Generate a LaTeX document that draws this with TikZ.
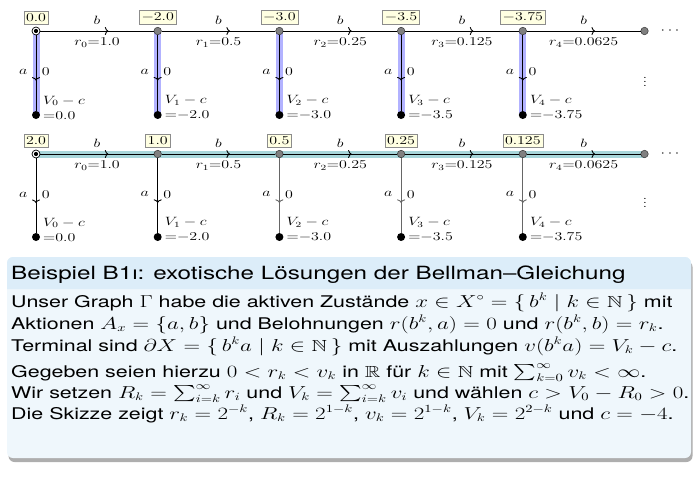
\documentclass[tikz,border=0pt]{standalone}
\usepackage{graphicx}
\usepackage{amssymb}
\usepackage[no-math]{fontspec}
\setsansfont{TeX Gyre Heros}
\usetikzlibrary{decorations.markings,shadows,arrows.meta,backgrounds}
\definecolor{bandblue}{RGB}{178,178,255}
\definecolor{bandteal}{RGB}{168,214,218}
\definecolor{valfill}{RGB}{255,255,226}
\definecolor{titlebg}{RGB}{220,237,249}
\definecolor{bodybg}{RGB}{239,247,252}
\newcommand\hs[1]{\scalebox{1.33}[1]{#1}}
\begin{document}
\begin{tikzpicture}[x=1pt,y=-1pt,
  lab/.style={font=\fontsize{11.7}{14}\selectfont},
  st/.style={circle, fill=black!50, draw=black!80, line width=0.5pt, minimum size=7.5pt, inner sep=0pt},
  term/.style={circle, fill=black, minimum size=8pt, inner sep=0pt},
  init/.style={circle, fill=white, draw=black, line width=0.7pt, minimum size=8pt, inner sep=0pt},
  val/.style={draw=black!45, fill=valfill, line width=0.5pt, inner xsep=2.2pt, inner ysep=2.8pt, font=\fontsize{11.7}{14}\selectfont},
  tl/.style={font=\fontsize{11.7}{15}\selectfont, align=left, inner sep=0pt},
  edgearr/.style={line width=0.9pt, postaction={decorate, decoration={markings, mark=at position 0.6 with {\arrow{Computer Modern Rightarrow[length=3.5pt,width=8pt]}}}}},
  txt/.style={font=\sffamily\fontsize{16.1}{22}\selectfont, anchor=base west, inner sep=0pt},
  ttl/.style={font=\sffamily\fontsize{18.2}{22}\selectfont, anchor=base west, inner sep=0pt}
]
\useasboundingbox (0,0) rectangle (699,482);

% states
\node[init] (t0) at (36,31) {};
\node[init] (u0) at (36,154) {};
\fill (t0.center) circle (2.1pt);
\fill (u0.center) circle (2.1pt);
\foreach \i in {1,...,5} {
  \pgfmathsetmacro\x{36+121.7*\i}
  \node[st] (t\i) at (\x,31) {};
  \node[st] (u\i) at (\x,154) {};
}
% terminals, values
\foreach \i/\v/\w in {0/0.0/2.0,1/-2.0/1.0,2/-3.0/0.5,3/-3.5/0.25,4/-3.75/0.125} {
  \pgfmathsetmacro\x{36+121.7*\i}
  \node[term] (a\i) at (\x,115) {};
  \node[term] (b\i) at (\x,237) {};
  \node[tl, anchor=west] (la\i) at (\x+7,107.5) {\hs{$V_{\i}-c$}\\\hs{${=}{\v}$}};
  \node[tl, anchor=west] (lb\i) at (\x+7,229.5) {\hs{$V_{\i}-c$}\\\hs{${=}{\v}$}};
  \node[val] (va\i) at (\x,17.5) {\hs{$\v$}};
  \node[val] (vb\i) at (\x,140.5) {\hs{$\w$}};
}
% bands
\begin{pgfonlayer}{background}
  \foreach \i in {0,...,4} \draw[bandblue, line width=7pt] (t\i.center) -- (a\i.center);
  \draw[bandteal, line width=7pt] (u0.center) -- (u5.center);
\end{pgfonlayer}
% horizontal edges
\foreach \i/\j/\r in {0/1/1.0,1/2/0.5,2/3/0.25,3/4/0.125,4/5/0.0625} {
  \draw[edgearr] (t\i) -- node[lab, yshift=11pt] {\hs{$b$}} node[lab, yshift=-12pt] {\hs{$r_{\i}{=}\r$}} (t\j);
  \draw[edgearr] (u\i) -- node[lab, yshift=11pt] {\hs{$b$}} node[lab, yshift=-12pt] {\hs{$r_{\i}{=}\r$}} (u\j);
}
% vertical edges
\foreach \i/\c in {0/black,1/black,2/black!60,3/black!60,4/black!60} {
  \draw[edgearr] (t\i) -- node[lab, left=5pt, yshift=1pt] {\hs{$a$}} node[lab, right=2pt, yshift=1pt] {\hs{$0$}} (a\i);
  \draw[edgearr, draw=\c] (u\i) -- node[lab, left=5pt, yshift=1pt] {\hs{$a$}} node[lab, right=2pt, yshift=1pt] {\hs{$0$}} (b\i);
}
\node[lab] (hd1) at (670,31) {\hs{$\cdots$}};
\node[lab] (hd2) at (670,154) {\hs{$\cdots$}};
\node[lab] (vd1) at (645,79) {\hs{$\vdots$}};
\node[lab] (vd2) at (645,200) {\hs{$\vdots$}};

% block
\path[rounded corners=6pt, fill=bodybg, drop shadow={shadow xshift=1.5pt, shadow yshift=-4pt, opacity=0.45, fill=black!70}] (7,257) rectangle (691,458);
\fill[titlebg] (7,289) [rounded corners=6pt] -- (7,257) -- (691,257) [sharp corners] -- (691,289) -- cycle;
\node[ttl] (title) at (11,279) {\hs{Beispiel B1ı: exotische Lösungen der Bellman–Gleichung}};
\node[txt] (l1) at (11,307) {\hs{Unser Graph $\Gamma$ habe die aktiven Zustände $x\in X^\circ=\{\,b^k\mid k\in\mathbb{N}\,\}$ mit}};
\node[txt] (l2) at (11,329) {\hs{Aktionen $A_x=\{a,b\}$ und Belohnungen $r(b^k,a)=0$ und $r(b^k,b)=r_k$.}};
\node[txt] (l3) at (11,351) {\hs{Terminal sind $\partial X=\{\,b^ka\mid k\in\mathbb{N}\,\}$ mit Auszahlungen $v(b^ka)=V_k-c$.}};
\node[txt] (l4) at (11,377) {\hs{Gegeben seien hierzu $0<r_k<v_k$ in $\mathbb{R}$ für $k\in\mathbb{N}$ mit $\sum_{k=0}^\infty v_k<\infty$.}};
\node[txt] (l5) at (11,398) {\hs{Wir setzen $R_k=\sum_{i=k}^\infty r_i$ und $V_k=\sum_{i=k}^\infty v_i$ und wählen $c>V_0-R_0>0$.}};
\node[txt] (l6) at (11,419) {\hs{Die Skizze zeigt $r_k=2^{-k}$, $R_k=2^{1-k}$, $v_k=2^{1-k}$, $V_k=2^{2-k}$ und $c=-4$.}};
\end{tikzpicture}
\end{document}
